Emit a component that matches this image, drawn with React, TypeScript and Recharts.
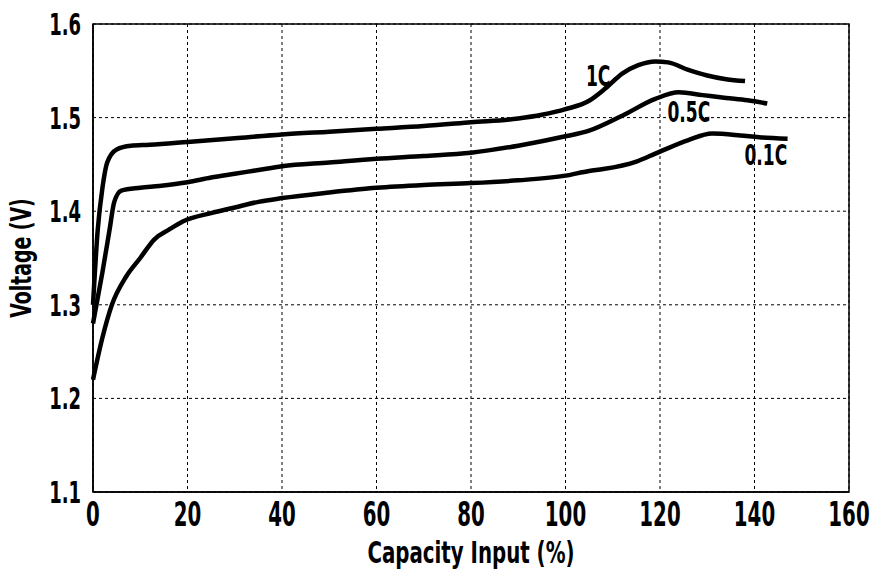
import { LineChart, Line, XAxis, YAxis, CartesianGrid, ReferenceArea, ReferenceDot } from 'recharts';

const xTicks = [0, 20, 40, 60, 80, 100, 120, 140, 160];
const yTicks = [1.1, 1.2, 1.3, 1.4, 1.5, 1.6];

// 1C charge curve
const c1X = [0, 1, 2, 3, 5, 8, 12, 20, 30, 40, 50, 60, 70, 80, 90, 95, 100, 105, 108.4, 112, 115.4, 119, 121.7, 126, 130, 134, 138];
const c1Y = [1.30, 1.38, 1.425, 1.452, 1.466, 1.47, 1.471, 1.474, 1.478, 1.482, 1.485, 1.488, 1.491, 1.495, 1.499, 1.503, 1.509, 1.518, 1.531, 1.547, 1.556, 1.56, 1.559, 1.551, 1.545, 1.541, 1.539];

// 0.5C charge curve
const c05X = [0, 2, 3.5, 4.5, 6, 10, 14, 20, 25, 30, 35, 40, 50, 60, 70, 80, 90, 100, 105, 112, 119, 124, 129, 134, 138.5, 142.7];
const c05Y = [1.28, 1.335, 1.38, 1.41, 1.422, 1.425, 1.427, 1.431, 1.436, 1.44, 1.444, 1.448, 1.452, 1.456, 1.459, 1.4625, 1.47, 1.48, 1.486, 1.502, 1.52, 1.527, 1.524, 1.521, 1.5185, 1.515];

// 0.1C charge curve
const c01X = [0, 2, 4, 7, 10, 13, 16, 19, 25, 30, 35, 40, 50, 60, 70, 80, 90, 100, 105, 108, 115, 119, 126, 131, 137, 141, 147];
const c01Y = [1.22, 1.265, 1.3, 1.33, 1.35, 1.37, 1.38, 1.389, 1.398, 1.404, 1.41, 1.414, 1.42, 1.425, 1.428, 1.43, 1.433, 1.438, 1.443, 1.445, 1.453, 1.4615, 1.476, 1.483, 1.481, 1.479, 1.4775];

const seriesLabels = ['1C', '0.5C', '0.1C'];
const labelX = [106.9, 126.1, 142.4];
const labelY = [1.5443, 1.5058, 1.4597];

const toPoints = (xs: number[], ys: number[]) => xs.map((x, i) => ({ x, v: ys[i] }));

const series = [
  { name: '1C', data: toPoints(c1X, c1Y) },
  { name: '0.5C', data: toPoints(c05X, c05Y) },
  { name: '0.1C', data: toPoints(c01X, c01Y) },
];

const font = "'DejaVu Sans Condensed', 'DejaVu Sans', sans-serif";
const CAP = 0.73; // cap height ratio of the font

// narrow, tall bold text like the scanned original
const TallText = ({ x, y, size, stretch, anchor = 'middle', children }: any) => (
  <text
    transform={`translate(${x},${y}) scale(1,${stretch})`}
    x={0}
    y={(size * CAP) / 2}
    textAnchor={anchor}
    fontFamily={font}
    fontWeight={700}
    fontSize={size}
    fill="#000"
  >
    {children}
  </text>
);

const XTick = (props: any) => {
  const { x, y, payload } = props;
  return <TallText x={x} y={y + 16} size={22} stretch={1.5}>{payload.value}</TallText>;
};

const YTick = (props: any) => {
  const { x, y, payload } = props;
  return <TallText x={x - 6} y={y} size={20} stretch={1.5} anchor="end">{Number(payload.value).toFixed(1)}</TallText>;
};

const XTitle = (props: any) => {
  const { viewBox } = props;
  return <TallText x={viewBox.x + viewBox.width / 2} y={552} size={22} stretch={1.4}>Capacity Input (%)</TallText>;
};

const YTitle = (props: any) => {
  const { viewBox } = props;
  const cy = viewBox.y + viewBox.height / 2;
  return (
    <g transform={`translate(21,${cy}) rotate(-90)`}>
      <TallText x={0} y={0} size={21} stretch={1.35}>Voltage (V)</TallText>
    </g>
  );
};

const SeriesLabel = (props: any) => {
  const { viewBox, value } = props;
  return <TallText x={viewBox.x} y={viewBox.y} size={19} stretch={1.45}>{value}</TallText>;
};

export default function App() {
  return (
    <div style={{ position: 'absolute', left: 0, top: 0, background: '#fff' }}>
      <LineChart width={882} height={574} margin={{ top: 24, right: 33, left: 0, bottom: 0 }}>
        <CartesianGrid stroke="#000" strokeDasharray="3 3" strokeWidth={1} />
        <XAxis
          type="number"
          dataKey="x"
          domain={[0, 160]}
          ticks={xTicks}
          height={82}
          tickLine={false}
          tickMargin={0}
          axisLine={{ stroke: '#000', strokeWidth: 1.5 }}
          tick={<XTick />}
          label={<XTitle />}
        />
        <YAxis
          type="number"
          domain={[1.1, 1.6]}
          ticks={yTicks}
          width={93}
          tickLine={false}
          tickMargin={0}
          axisLine={{ stroke: '#000', strokeWidth: 1.5 }}
          tick={<YTick />}
          label={<YTitle />}
        />
        <ReferenceArea x1={0} x2={160} y1={1.1} y2={1.6} fill="none" stroke="#000" strokeWidth={1.5} />
        {series.map((s) => (
          <Line
            key={s.name}
            data={s.data}
            dataKey="v"
            name={s.name}
            type="monotone"
            stroke="#000"
            strokeWidth={4.5}
            dot={false}
            isAnimationActive={false}
          />
        ))}
        {seriesLabels.map((t, i) => (
          <ReferenceDot key={t} x={labelX[i]} y={labelY[i]} r={0} fill="none" stroke="none"
            label={<SeriesLabel value={t} />} />
        ))}
      </LineChart>
    </div>
  );
}
